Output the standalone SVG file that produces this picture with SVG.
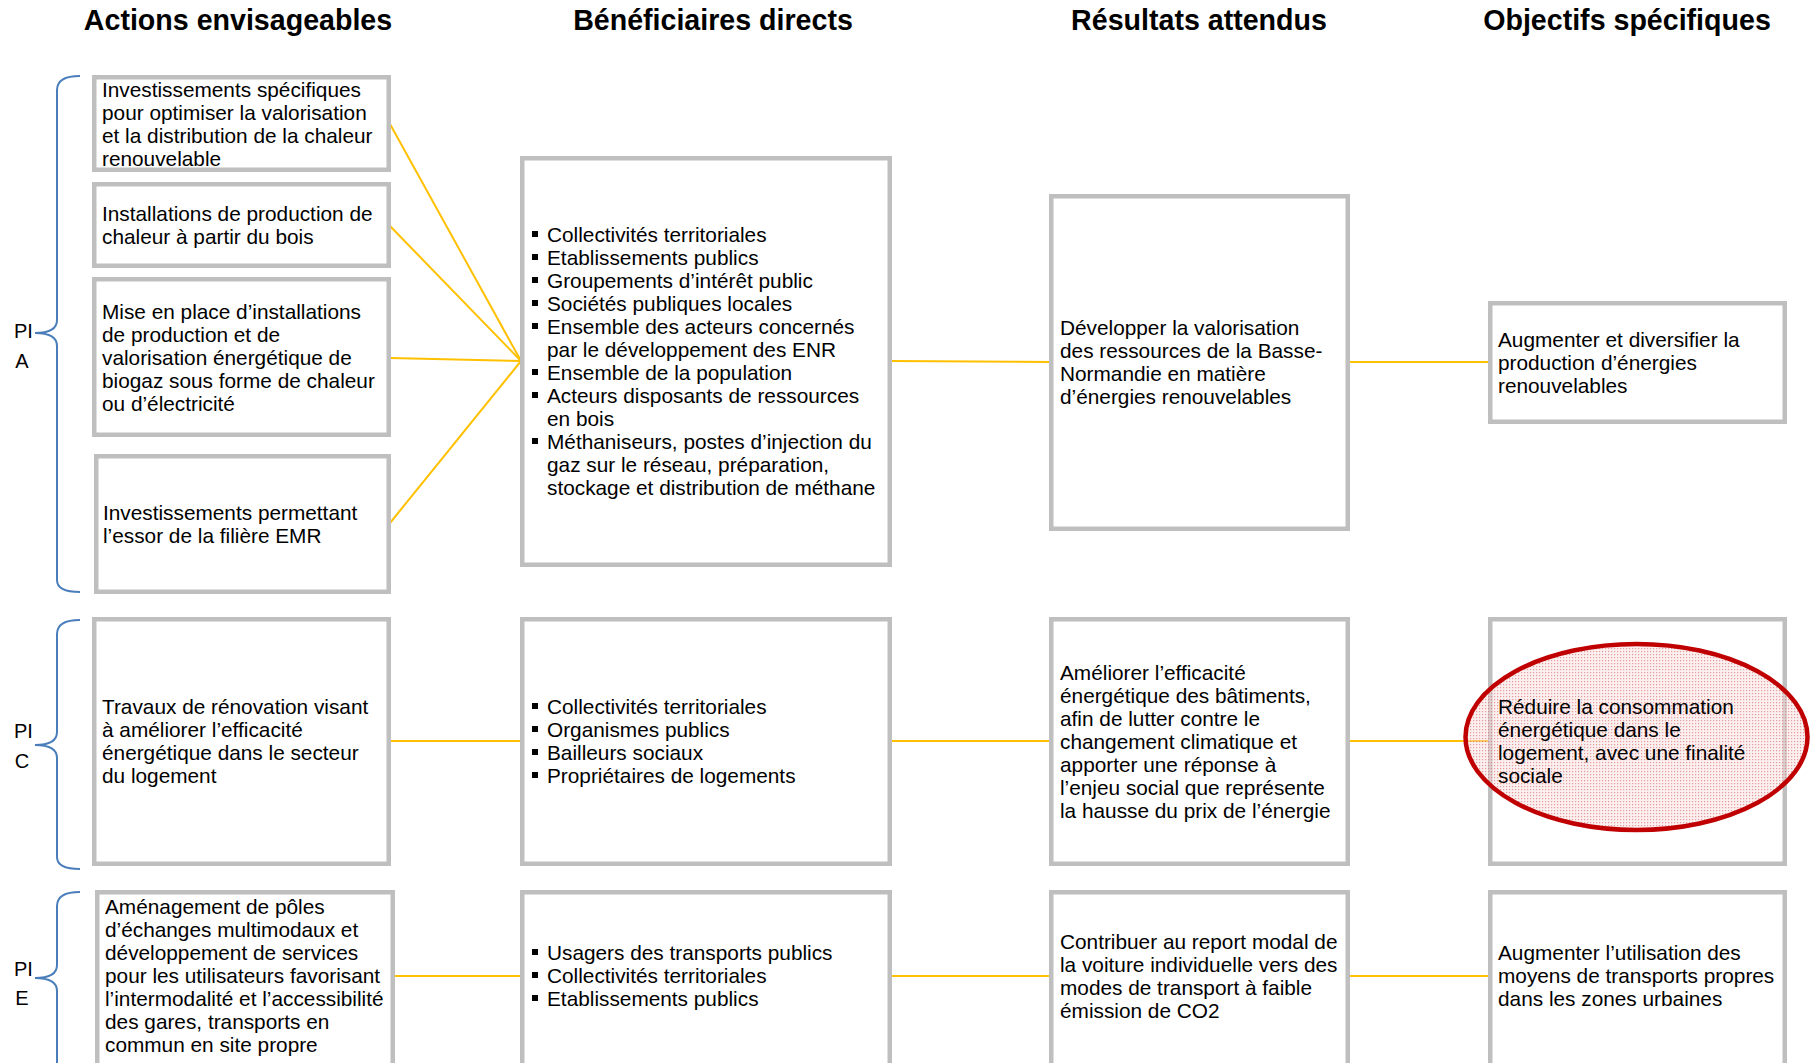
<svg xmlns="http://www.w3.org/2000/svg" width="1810" height="1063" viewBox="0 0 1810 1063">
<style>
text{font-family:"Liberation Sans",Arial,sans-serif;fill:#000}
.h{font-size:28.6px;font-weight:bold;text-anchor:middle}
.t{font-size:20.8px}
.pi{font-size:20px}
.box{fill:#fff;stroke:#BFBFBF;stroke-width:4.5}
.con{stroke:#FFC000;stroke-width:2;fill:none}
.br{stroke:#4A7EBB;stroke-width:2;fill:none}
.b{fill:#000}
</style>
<defs>
<pattern id="dots" width="3" height="3" patternUnits="userSpaceOnUse"><rect width="1.2" height="1.2" fill="#D04848"/></pattern>
</defs>
<rect width="1810" height="1063" fill="#fff"/>
<g id="headers">
<text class="h" x="238" y="30">Actions envisageables</text>
<text class="h" x="713" y="30">Bénéficiaires directs</text>
<text class="h" x="1199" y="30">Résultats attendus</text>
<text class="h" x="1627" y="30">Objectifs spécifiques</text>
</g>
<g id="braces">
<path class="br" d="M80,76 Q57,76 57,90 L57,320 Q57,333 35,333 Q57,333 57,346 L57,580 Q57,592 80,592"/>
<text class="pi" x="14" y="338">PI</text><text class="pi" x="22" y="368" text-anchor="middle">A</text>
<path class="br" d="M80,620 Q57,620 57,634 L57,732 Q57,745 35,745 Q57,745 57,758 L57,857 Q57,869 80,869"/>
<text class="pi" x="14" y="738">PI</text><text class="pi" x="22" y="768" text-anchor="middle">C</text>
<path class="br" d="M80,892 Q57,892 57,906 L57,965 Q57,978 35,978 Q57,978 57,991 L57,1070"/>
<text class="pi" x="14" y="976">PI</text><text class="pi" x="22" y="1005" text-anchor="middle">E</text>
</g>
<g id="connectors">
<line class="con" x1="390" y1="124" x2="521" y2="361"/>
<line class="con" x1="390" y1="226" x2="521" y2="361"/>
<line class="con" x1="390" y1="358" x2="521" y2="361"/>
<line class="con" x1="390" y1="523" x2="521" y2="361"/>
<line class="con" x1="891" y1="361" x2="1050" y2="362"/>
<line class="con" x1="1349" y1="362" x2="1489" y2="362"/>
<line class="con" x1="390" y1="741" x2="521" y2="741"/>
<line class="con" x1="891" y1="741" x2="1050" y2="741"/>
<line class="con" x1="1349" y1="741" x2="1489" y2="741"/>
<line class="con" x1="394" y1="976" x2="521" y2="976"/>
<line class="con" x1="891" y1="976" x2="1050" y2="976"/>
<line class="con" x1="1349" y1="976" x2="1489" y2="976"/>
</g>
<g id="a1"><rect class="box" x="94.25" y="77.25" width="294.5" height="92.5"/>
<text class="t"><tspan x="102" y="97">Investissements spécifiques</tspan><tspan x="102" y="120">pour optimiser la valorisation</tspan><tspan x="102" y="143">et la distribution de la chaleur</tspan><tspan x="102" y="166">renouvelable</tspan></text></g>
<g id="a2"><rect class="box" x="94.25" y="184.25" width="294.5" height="81.5"/>
<text class="t"><tspan x="102" y="221">Installations de production de</tspan><tspan x="102" y="244">chaleur à partir du bois</tspan></text></g>
<g id="a3"><rect class="box" x="94.25" y="279.25" width="294.5" height="155.5"/>
<text class="t"><tspan x="102" y="319">Mise en place d’installations</tspan><tspan x="102" y="342">de production et de</tspan><tspan x="102" y="365">valorisation énergétique de</tspan><tspan x="102" y="388">biogaz sous forme de chaleur</tspan><tspan x="102" y="411">ou d’électricité</tspan></text></g>
<g id="a4"><rect class="box" x="96.25" y="456.25" width="292.5" height="135.5"/>
<text class="t"><tspan x="103" y="520">Investissements permettant</tspan><tspan x="103" y="543">l’essor de la filière EMR</tspan></text></g>
<g id="c1"><rect class="box" x="94.25" y="619.25" width="294.5" height="244.5"/>
<text class="t"><tspan x="102" y="714">Travaux de rénovation visant</tspan><tspan x="102" y="737">à améliorer l’efficacité</tspan><tspan x="102" y="760">énergétique dans le secteur</tspan><tspan x="102" y="783">du logement</tspan></text></g>
<g id="e1"><rect class="box" x="97.25" y="892.25" width="295.5" height="190"/>
<text class="t"><tspan x="105" y="914">Aménagement de pôles</tspan><tspan x="105" y="937">d’échanges multimodaux et</tspan><tspan x="105" y="960">développement de services</tspan><tspan x="105" y="983">pour les utilisateurs favorisant</tspan><tspan x="105" y="1006">l’intermodalité et l’accessibilité</tspan><tspan x="105" y="1029">des gares, transports en</tspan><tspan x="105" y="1052">commun en site propre</tspan></text></g>
<g id="ba"><rect class="box" x="522.25" y="158.25" width="367.5" height="406.5"/>
<g class="b"><rect x="532" y="231" width="6" height="6"/><rect x="532" y="254" width="6" height="6"/><rect x="532" y="277" width="6" height="6"/><rect x="532" y="300" width="6" height="6"/><rect x="532" y="323" width="6" height="6"/><rect x="532" y="369" width="6" height="6"/><rect x="532" y="392" width="6" height="6"/><rect x="532" y="438" width="6" height="6"/></g>
<text class="t"><tspan x="547" y="242">Collectivités territoriales</tspan><tspan x="547" y="265">Etablissements publics</tspan><tspan x="547" y="288">Groupements d’intérêt public</tspan><tspan x="547" y="311">Sociétés publiques locales</tspan><tspan x="547" y="334">Ensemble des acteurs concernés</tspan><tspan x="547" y="357">par le développement des ENR</tspan><tspan x="547" y="380">Ensemble de la population</tspan><tspan x="547" y="403">Acteurs disposants de ressources</tspan><tspan x="547" y="426">en bois</tspan><tspan x="547" y="449">Méthaniseurs, postes d’injection du</tspan><tspan x="547" y="472">gaz sur le réseau, préparation,</tspan><tspan x="547" y="495">stockage et distribution de méthane</tspan></text></g>
<g id="bc"><rect class="box" x="522.25" y="619.25" width="367.5" height="244.5"/>
<g class="b"><rect x="532" y="703" width="6" height="6"/><rect x="532" y="726" width="6" height="6"/><rect x="532" y="749" width="6" height="6"/><rect x="532" y="772" width="6" height="6"/></g>
<text class="t"><tspan x="547" y="714">Collectivités territoriales</tspan><tspan x="547" y="737">Organismes publics</tspan><tspan x="547" y="760">Bailleurs sociaux</tspan><tspan x="547" y="783">Propriétaires de logements</tspan></text></g>
<g id="be"><rect class="box" x="522.25" y="892.25" width="367.5" height="190"/>
<g class="b"><rect x="532" y="949" width="6" height="6"/><rect x="532" y="972" width="6" height="6"/><rect x="532" y="995" width="6" height="6"/></g>
<text class="t"><tspan x="547" y="960">Usagers des transports publics</tspan><tspan x="547" y="983">Collectivités territoriales</tspan><tspan x="547" y="1006">Etablissements publics</tspan></text></g>
<g id="ra"><rect class="box" x="1051.25" y="196.25" width="296.5" height="332.5"/>
<text class="t"><tspan x="1060" y="335">Développer la valorisation</tspan><tspan x="1060" y="358">des ressources de la Basse-</tspan><tspan x="1060" y="381">Normandie en matière</tspan><tspan x="1060" y="404">d’énergies renouvelables</tspan></text></g>
<g id="rc"><rect class="box" x="1051.25" y="619.25" width="296.5" height="244.5"/>
<text class="t"><tspan x="1060" y="680">Améliorer l’efficacité</tspan><tspan x="1060" y="703">énergétique des bâtiments,</tspan><tspan x="1060" y="726">afin de lutter contre le</tspan><tspan x="1060" y="749">changement climatique et</tspan><tspan x="1060" y="772">apporter une réponse à</tspan><tspan x="1060" y="795">l’enjeu social que représente</tspan><tspan x="1060" y="818">la hausse du prix de l’énergie</tspan></text></g>
<g id="re"><rect class="box" x="1051.25" y="892.25" width="296.5" height="190"/>
<text class="t"><tspan x="1060" y="949">Contribuer au report modal de</tspan><tspan x="1060" y="972">la voiture individuelle vers des</tspan><tspan x="1060" y="995">modes de transport à faible</tspan><tspan x="1060" y="1018">émission de CO2</tspan></text></g>
<g id="oa"><rect class="box" x="1490.25" y="303.25" width="294.5" height="118.5"/>
<text class="t"><tspan x="1498" y="347">Augmenter et diversifier la</tspan><tspan x="1498" y="370">production d’énergies</tspan><tspan x="1498" y="393">renouvelables</tspan></text></g>
<g id="oc"><rect class="box" x="1490.25" y="619.25" width="294.5" height="244.5"/>
<g id="highlight"><ellipse cx="1636.5" cy="737" rx="171" ry="93" fill="#F9DCDC" fill-opacity="0.45"/><ellipse cx="1636.5" cy="737" rx="171" ry="93" fill="url(#dots)" fill-opacity="0.5" stroke="#C00000" stroke-width="4.5"/></g>
<text class="t"><tspan x="1498" y="714">Réduire la consommation</tspan><tspan x="1498" y="737">énergétique dans le</tspan><tspan x="1498" y="760">logement, avec une finalité</tspan><tspan x="1498" y="783">sociale</tspan></text></g>
<g id="oe"><rect class="box" x="1490.25" y="892.25" width="294.5" height="190"/>
<text class="t"><tspan x="1498" y="960">Augmenter l’utilisation des</tspan><tspan x="1498" y="983">moyens de transports propres</tspan><tspan x="1498" y="1006">dans les zones urbaines</tspan></text></g>
</svg>
